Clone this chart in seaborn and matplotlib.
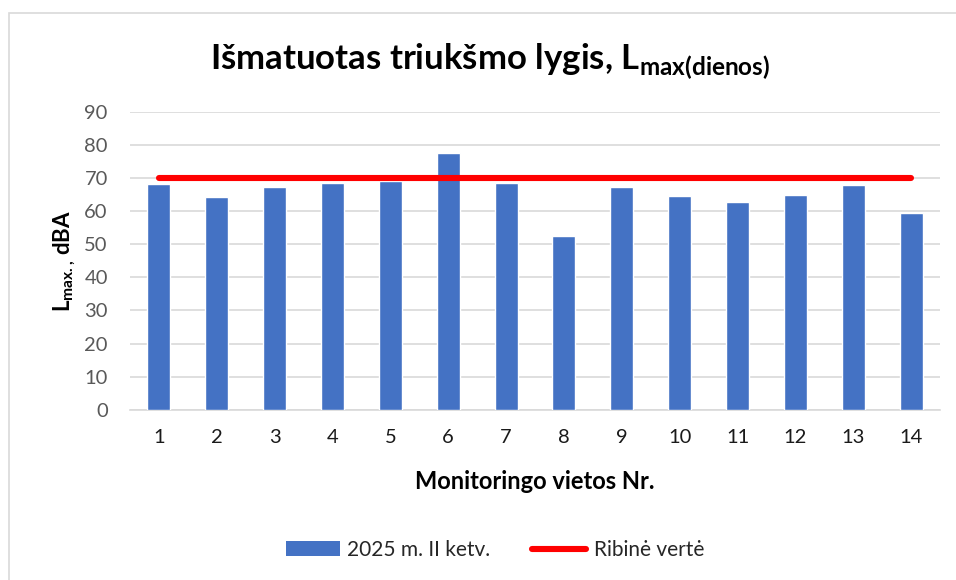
import matplotlib
matplotlib.use("Agg")
import matplotlib.pyplot as plt
from matplotlib.patches import Patch, Rectangle
from matplotlib.lines import Line2D
import numpy as np
import pandas as pd
import seaborn as sns

# Monitoring sites and measured daytime maximum noise levels (dBA)
sites = ["1", "2", "3", "4", "5", "6", "7", "8", "9", "10", "11", "12", "13", "14"]
lmax_2025_q2 = [68.1, 64.3, 67.4, 68.5, 69.0, 77.7, 68.5, 52.5, 67.2, 64.6, 62.9, 64.9, 67.9, 59.4]
limit_value = [70] * len(sites)
y_ticks = [0, 10, 20, 30, 40, 50, 60, 70, 80, 90]

series_label = "2025 m. II ketv."
limit_label = "Ribinė vertė"

sns.set_theme(style="white")
plt.rcParams["font.family"] = ["Lato", "DejaVu Sans"]
plt.rcParams["mathtext.fontset"] = "custom"
plt.rcParams["mathtext.rm"] = "Lato"
plt.rcParams["mathtext.bf"] = "Lato:bold"

BLUE = "#4472C4"
RED = "#FF0000"
GRID = "#D9D9D9"

df = pd.DataFrame({"site": sites, "value": lmax_2025_q2})

fig = plt.figure(figsize=(9.56, 5.8), dpi=100)
fig.patch.set_facecolor("white")
ax = fig.add_axes([130 / 956, 1 - 409.7 / 580, 810 / 956, (409.7 - 112) / 580])

# chart-area frame
fig.patches.append(Rectangle((9 / 956, -0.05), 1.0, 1 - 13 / 580 + 0.05,
                             transform=fig.transFigure, fill=False,
                             edgecolor=GRID, linewidth=1.2, zorder=0))

sns.barplot(data=df, x="site", y="value", color=BLUE, width=0.40,
            saturation=1, ax=ax, zorder=3)

sns.lineplot(x=np.arange(len(sites)), y=limit_value, color=RED, linewidth=4.4,
             ax=ax, zorder=4, solid_capstyle="round")

ax.set_ylim(0, 90)
ax.set_xlim(-0.5, len(sites) - 0.5)
ax.set_yticks(y_ticks)
ax.yaxis.grid(True, color=GRID, linewidth=1.2, zorder=0)
ax.set_axisbelow(True)
for side in ["top", "right", "left"]:
    ax.spines[side].set_visible(False)
ax.spines["bottom"].set_color(GRID)
ax.spines["bottom"].set_linewidth(1.2)

ax.tick_params(axis="y", length=0, pad=16, labelsize=14.5, labelcolor="#595959")
ax.tick_params(axis="x", length=0, pad=14, labelsize=14.5, labelcolor="#1a1a1a")

ax.set_xlabel("Monitoringo vietos Nr.", fontsize=17, fontweight="bold",
              color="black", labelpad=17)
ax.set_ylabel(r"L$_\mathbf{max.{,}}$ dBA", fontsize=16, fontweight="bold",
              color="black")
ax.yaxis.set_label_coords(-0.064, 0.5)

fig.text(490 / 956, 1 - 61 / 580, r"Išmatuotas triukšmo lygis, L$_\mathbf{max(dienos)}$",
         ha="center", va="center", fontsize=25, fontweight="bold", color="black")

handles = [Patch(facecolor=BLUE, edgecolor="none"),
           Line2D([0], [0], color=RED, linewidth=4.4, solid_capstyle="round")]
fig.legend(handles, [series_label, limit_label], loc="center",
           bbox_to_anchor=(495 / 956, 1 - 550 / 580), ncol=2, frameon=False,
           fontsize=15, handlelength=2.6, handletextpad=0.35, columnspacing=2.0)

fig.savefig("out.png", dpi=100, facecolor="white")
